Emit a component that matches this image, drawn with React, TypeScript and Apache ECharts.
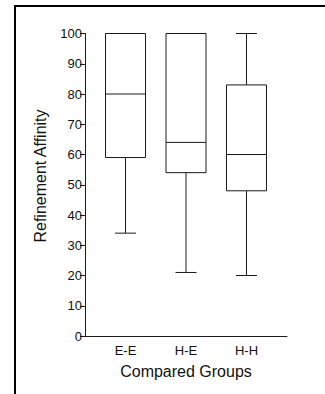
import React, { useEffect, useRef } from "react";
import * as echarts from "echarts";

const categories = ["E-E", "H-E", "H-H"];
const positions = [1, 2, 3];
const mins = [34, 21, 20];
const q1s = [59, 54, 48];
const medians = [80, 64, 60];
const q3s = [100, 100, 83];
const maxs = [100, 100, 100];
const yTicks = [0, 10, 20, 30, 40, 50, 60, 70, 80, 90, 100];

const FONT = "'Liberation Sans', Arial, Helvetica, sans-serif";
const BOX_W = 40;
const CAP_W = 21;
const LINE = "#1a1a1a";

export default function App() {
  const ref = useRef<HTMLDivElement>(null);
  useEffect(() => {
    if (!ref.current) return;
    const chart = echarts.init(ref.current, undefined, { renderer: "svg" });
    const data = positions.map((p, i) => [p, mins[i], q1s[i], medians[i], q3s[i], maxs[i]]);
    chart.setOption({
      animation: false,
      backgroundColor: "#fff",
      grid: { left: 85, right: 38, top: 33.5, bottom: 58 },
      xAxis: {
        type: "value",
        min: 0.33,
        max: 3.67,
        splitLine: { show: false },
        axisTick: { show: false },
        axisLine: { show: true, lineStyle: { color: LINE, width: 1 } },
        axisLabel: {
          customValues: positions,
          formatter: (v: number) => categories[Math.round(v) - 1] ?? "",
          color: "#111",
          fontFamily: FONT,
          fontSize: 13,
          margin: 8,
        },
        name: "Compared Groups",
        nameLocation: "middle",
        nameGap: 27,
        nameTextStyle: { color: "#111", fontFamily: FONT, fontSize: 16 },
      },
      yAxis: {
        type: "value",
        min: yTicks[0],
        max: yTicks[yTicks.length - 1],
        interval: 10,
        splitLine: { show: false },
        axisLine: { show: true, lineStyle: { color: LINE, width: 1 } },
        axisTick: { show: true, inside: false, length: 5, lineStyle: { color: LINE } },
        axisLabel: { color: "#111", fontFamily: FONT, fontSize: 13, margin: 3 },
      },
      graphic: [
        {
          type: "rect",
          shape: { x: 15, y: 6, width: 500, height: 600 },
          style: { fill: "none", stroke: "#000", lineWidth: 2 },
          silent: true,
        },
        {
          type: "text",
          x: 40,
          y: 176,
          rotation: Math.PI / 2,
          style: {
            text: "Refinement Affinity",
            fontFamily: FONT,
            fontSize: 16,
            fill: "#111",
            textAlign: "center",
            textVerticalAlign: "middle",
          },
        },
      ],
      series: [
        {
          type: "custom",
          data,
          encode: { x: 0, y: [1, 2, 3, 4, 5] },
          renderItem: (params: any, api: any) => {
            const x = api.value(0);
            const [cx, yMin] = api.coord([x, api.value(1)]);
            const yQ1 = api.coord([x, api.value(2)])[1];
            const yMed = api.coord([x, api.value(3)])[1];
            const yQ3 = api.coord([x, api.value(4)])[1];
            const yMax = api.coord([x, api.value(5)])[1];
            const hb = BOX_W / 2;
            const hc = CAP_W / 2;
            const st = { stroke: LINE, lineWidth: 1, fill: "none" };
            return {
              type: "group",
              children: [
                { type: "line", shape: { x1: cx, y1: yQ1, x2: cx, y2: yMin }, style: st },
                { type: "line", shape: { x1: cx, y1: yQ3, x2: cx, y2: yMax }, style: st },
                { type: "line", shape: { x1: cx - hc, y1: yMin, x2: cx + hc, y2: yMin }, style: st },
                { type: "line", shape: { x1: cx - hc, y1: yMax, x2: cx + hc, y2: yMax }, style: st },
                {
                  type: "rect",
                  shape: { x: cx - hb, y: yQ3, width: BOX_W, height: yQ1 - yQ3 },
                  style: { stroke: LINE, lineWidth: 1, fill: "#fff" },
                },
                { type: "line", shape: { x1: cx - hb, y1: yMed, x2: cx + hb, y2: yMed }, style: st },
              ],
            };
          },
        },
      ],
    });
    return () => chart.dispose();
  }, []);
  return (
    <div
      ref={ref}
      style={{ position: "fixed", left: 0, top: 0, width: 325, height: 394, background: "#fff" }}
    />
  );
}
